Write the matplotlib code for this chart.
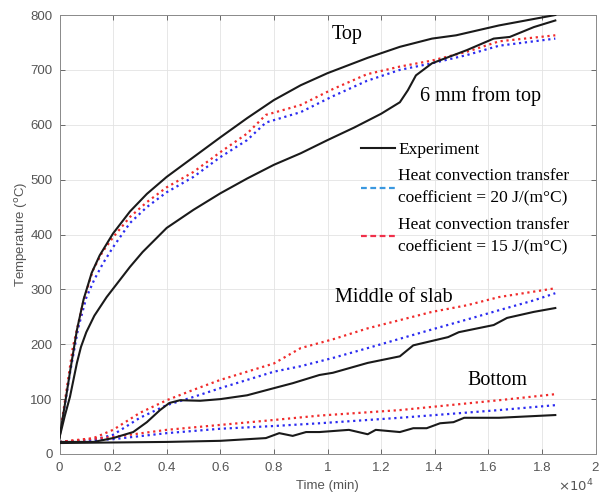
import numpy as np
import matplotlib
matplotlib.use("Agg")
import matplotlib.pyplot as plt
from matplotlib.lines import Line2D

# ── Data (time in units of 1e4 min, temperature in °C) ───────────────────────
# Top
TOP_EXP_T = [0, 0.02, 0.04, 0.065, 0.09, 0.12, 0.15, 0.2, 0.263, 0.326, 0.4, 0.5,
             0.6, 0.7, 0.8, 0.9, 1.0, 1.15, 1.27, 1.39, 1.48, 1.64, 1.85]
TOP_EXP_Y = [30, 90, 152, 226, 282, 330, 362, 402, 442, 474, 505, 541,
             577, 612, 645, 672, 694, 722, 742, 757, 763, 781, 800]

TOP_H15_T = [0, 0.05, 0.09, 0.125, 0.16, 0.2, 0.263, 0.326, 0.4, 0.5, 0.6, 0.7,
             0.77, 0.8, 0.9, 1.02, 1.147, 1.27, 1.39, 1.52, 1.64, 1.85]
TOP_H15_Y = [30, 195, 280, 335, 368, 395, 432, 459, 486, 514, 550, 584,
             618, 622, 636, 665, 692, 706, 717, 733, 752, 763]

TOP_H20_T = [0, 0.04, 0.07, 0.1, 0.13, 0.163, 0.2, 0.263, 0.326, 0.4, 0.5, 0.6,
             0.7, 0.77, 0.9, 1.02, 1.147, 1.27, 1.39, 1.52, 1.64, 1.85]
TOP_H20_Y = [30, 150, 230, 285, 318, 348, 377, 421, 450, 477, 505, 541,
             572, 604, 623, 652, 680, 700, 712, 727, 744, 757]

# 6 mm from top
MM6_EXP_T = [0, 0.02, 0.039, 0.065, 0.08, 0.1, 0.13, 0.176, 0.263, 0.31, 0.4, 0.5,
             0.6, 0.7, 0.8, 0.9, 1.0, 1.1, 1.2, 1.27, 1.30, 1.33, 1.39, 1.52,
             1.62, 1.68, 1.77, 1.85]
MM6_EXP_Y = [30, 70, 104, 166, 195, 222, 252, 286, 341, 368, 412, 445,
             475, 502, 527, 548, 572, 595, 620, 641, 663, 690, 712, 736,
             757, 760, 778, 790]

# Middle of slab
MID_EXP_T = [0, 0.127, 0.2, 0.275, 0.326, 0.375, 0.41, 0.45, 0.525, 0.6, 0.70,
             0.8, 0.87, 0.97, 1.02, 1.15, 1.27, 1.32, 1.45, 1.49, 1.62, 1.67, 1.77, 1.85]
MID_EXP_Y = [22, 22, 29, 40, 58, 80, 93, 98, 97, 100, 107,
             120, 129, 144, 148, 166, 178, 198, 213, 222, 235, 248, 259, 266]

MID_H15_T = [0, 0.127, 0.2, 0.3, 0.4, 0.5, 0.6, 0.7, 0.8, 0.9, 1.02, 1.15,
             1.27, 1.39, 1.52, 1.64, 1.85]
MID_H15_Y = [22, 29, 44, 75, 98, 117, 135, 150, 165, 193, 209, 229,
             244, 259, 271, 286, 302]

MID_H20_T = [0, 0.127, 0.2, 0.3, 0.4, 0.5, 0.6, 0.7, 0.8, 0.9, 1.02, 1.15,
             1.27, 1.39, 1.52, 1.64, 1.77, 1.85]
MID_H20_Y = [22, 26, 35, 66, 89, 104, 120, 135, 150, 160, 175, 193,
             210, 227, 245, 262, 280, 293]

# Bottom
BOT_EXP_T = [0, 0.4, 0.6, 0.77, 0.82, 0.87, 0.92, 0.97, 1.08, 1.15, 1.18, 1.27,
             1.32, 1.37, 1.42, 1.47, 1.51, 1.64, 1.85]
BOT_EXP_Y = [20, 22, 24, 29, 38, 33, 40, 40, 44, 36, 44, 40,
             47, 47, 56, 58, 66, 66, 71]

BOT_H15_T = [0, 0.2, 0.4, 0.6, 0.8, 0.97, 1.27, 1.64, 1.85]
BOT_H15_Y = [22, 31, 44, 53, 62, 70, 80, 98, 109]

BOT_H20_T = [0, 0.2, 0.4, 0.6, 0.8, 0.97, 1.27, 1.64, 1.85]
BOT_H20_Y = [22, 27, 38, 46, 51, 56, 66, 80, 89]

EXP_COL = "#1a1a1a"
H20_COL = "#2b2bf0"
H15_COL = "#f02b2b"
H20_LEG = "#3a98e0"
H15_LEG = "#f0304a"
GREY = "#555555"
SERIF = ["Liberation Serif", "DejaVu Serif"]
SANS = ["Liberation Sans", "DejaVu Sans"]

plt.rcParams.update({
    "font.family": SANS,
    "font.size": 9,
    "xtick.direction": "in",
    "ytick.direction": "in",
    "xtick.top": True,
    "ytick.right": True,
    "xtick.major.size": 3.5,
    "ytick.major.size": 3.5,
    "xtick.color": GREY,
    "ytick.color": GREY,
    "axes.edgecolor": "#8a8a8a",
    "axes.linewidth": 0.7,
})

fig = plt.figure(figsize=(6.05, 4.97), dpi=100)
ax = fig.add_axes([59.5 / 605, 43 / 497, 536 / 605, 439 / 497])

for t, y in [(TOP_EXP_T, TOP_EXP_Y), (MM6_EXP_T, MM6_EXP_Y),
             (MID_EXP_T, MID_EXP_Y), (BOT_EXP_T, BOT_EXP_Y)]:
    ax.plot(t, y, color=EXP_COL, lw=1.5, zorder=3)
for t, y in [(TOP_H20_T, TOP_H20_Y), (MID_H20_T, MID_H20_Y), (BOT_H20_T, BOT_H20_Y)]:
    ax.plot(t, y, color=H20_COL, lw=1.6, ls=":", zorder=2)
for t, y in [(TOP_H15_T, TOP_H15_Y), (MID_H15_T, MID_H15_Y), (BOT_H15_T, BOT_H15_Y)]:
    ax.plot(t, y, color=H15_COL, lw=1.6, ls=":", zorder=2)

ax.set_xlim(0, 2)
ax.set_ylim(0, 800)
ax.set_xticks(np.arange(0, 2.01, 0.2))
ax.set_xticklabels(["0", "0.2", "0.4", "0.6", "0.8", "1", "1.2", "1.4",
                    "1.6", "1.8", "2"])
ax.set_yticks(range(0, 801, 100))
ax.grid(True, color="#e3e3e3", lw=0.6)
ax.set_axisbelow(True)
ax.tick_params(labelsize=9.5, width=0.6)
ax.tick_params(axis="x", pad=6)
ax.tick_params(axis="y", pad=5)

ax.set_xlabel("Time (min)", color=GREY, fontsize=9.5, labelpad=4)
ax.set_ylabel("Temperature ($^{\\mathrm{o}}$C)", color=GREY, fontsize=9.5, labelpad=0)
ax.text(0.996, -0.073, "$\\times10^{4}$", transform=ax.transAxes, ha="right",
        va="center", color=GREY, fontsize=9.5)

# Curve labels
ax.text(1.075, 765, "Top", family=SERIF, fontsize=14.5, ha="center", va="center")
ax.text(1.57, 652, "6 mm from top", family=SERIF, fontsize=14.5, ha="center", va="center")
ax.text(1.246, 286, "Middle of slab", family=SERIF, fontsize=14.5, ha="center", va="center")
ax.text(1.633, 134, "Bottom", family=SERIF, fontsize=14.5, ha="center", va="center")

handles = [
    Line2D([], [], color=EXP_COL, lw=1.5),
    Line2D([], [], color=H20_LEG, lw=1.6, ls=(0, (2.6, 1.6))),
    Line2D([], [], color=H15_LEG, lw=1.6, ls=(0, (2.6, 1.6))),
]
labels = [
    "Experiment",
    "Heat convection transfer\ncoefficient = 20 J/(m°C)",
    "Heat convection transfer\ncoefficient = 15 J/(m°C)",
]
leg = ax.legend(handles, labels, loc="upper left", bbox_to_anchor=(0.562, 0.711),
                frameon=False, prop={"family": SERIF, "size": 12.5},
                handlelength=2.0, handletextpad=0.15, borderpad=0,
                borderaxespad=0, labelspacing=0.6)
for txt in leg.get_texts():
    txt.set_linespacing(1.53)

fig.savefig("out.png", dpi=100)
